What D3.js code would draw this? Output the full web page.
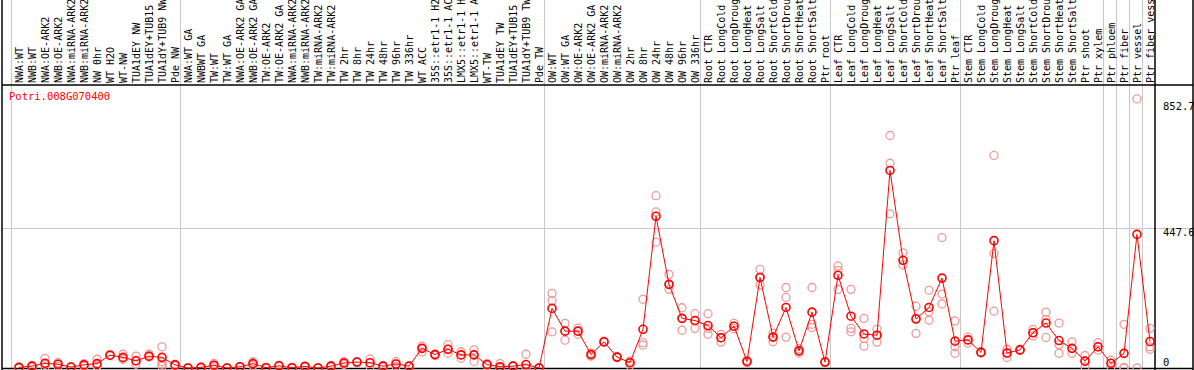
<!DOCTYPE html>
<html>
<head>
<meta charset="utf-8">
<script src="https://cdn.jsdelivr.net/npm/d3@7"></script>
<style>
  body { margin: 0; background: #fff; }
  svg { display: block; }
  text { font-family: "DejaVu Sans Mono", monospace; }
</style>
</head>
<body>
<div id="chart"></div>
<script>
// Sample labels, one per column
var sampleLabels = [
    "NWA:WT", "NWB:WT", "NWA:OE-ARK2", "NWB:OE-ARK2", "NWA:miRNA-ARK2", "NWB:miRNA-ARK2",
    "NW 0hr", "WT H2O", "WT-NW", "TUA1dEY NW", "TUA1dEY+TUB15 NW", "TUA1dY+TUB9 NW", "Pde NW",
    "NWA:WT GA", "NWBWT GA", "TW:WT", "TW:WT GA", "NWA:OE-ARK2 GA", "NWB:OE-ARK2 GA",
    "TW:OE-ARK2", "TW:OE-ARK2 GA", "NWA:miRNA-ARK2 GA", "NWB:miRNA-ARK2 GA", "TW:miRNA-ARK2",
    "TW:miRNA-ARK2 GA", "TW 2hr", "TW 8hr", "TW 24hr", "TW 48hr", "TW 96hr", "TW 336hr",
    "WT ACC", "35S::etr1-1 H2O", "35S::etr1-1 ACC", "LMX5::etr1-1 H2O", "LMX5::etr1-1 ACC",
    "WT-TW", "TUA1dEY TW", "TUA1dEY+TUB15 TW", "TUA1dY+TUB9 TW", "Pde TW",
    "OW:WT", "OW:WT GA", "OW:OE-ARK2", "OW:OE-ARK2 GA", "OW:miRNA-ARK2", "OW:miRNA-ARK2 GA",
    "OW 2hr", "OW 8hr", "OW 24hr", "OW 48hr", "OW 96hr", "OW 336hr",
    "Root CTR", "Root LongCold", "Root LongDrought", "Root LongHeat", "Root LongSalt",
    "Root ShortCold", "Root ShortDrought", "Root ShortHeat", "Root ShortSalt", "Ptr root",
    "Leaf CTR", "Leaf LongCold", "Leaf LongDrought", "Leaf LongHeat", "Leaf LongSalt",
    "Leaf ShortCold", "Leaf ShortDrought", "Leaf ShortHeat", "Leaf ShortSalt", "Ptr leaf",
    "Stem CTR", "Stem LongCold", "Stem LongDrought", "Stem LongHeat", "Stem LongSalt",
    "Stem ShortCold", "Stem ShortDrought", "Stem ShortHeat", "Stem ShortSalt", "Ptr shoot",
    "Ptr xylem", "Ptr phloem", "Ptr fiber", "Ptr vessel", "Ptr fiber vessel"
];

// number of columns in each experiment group
var groupSizes = [13, 28, 12, 10, 10, 11, 1, 1, 1, 1];

// mean expression per sample
var meanValues = [
    2, 6, 15, 12, 3, 10, 14, 41, 34, 23, 38, 34, 10,
    0, 2, 9, 0, 4, 14, 1, 7, 1, 5, 0, 6, 16, 19, 17, 6, 13, 6, 63, 43, 60, 42, 42, 11, 4, 6, 11, 0,
    191, 118, 118, 43, 84, 35, 17, 124, 486, 268, 159, 152,
    136, 97, 134, 21, 290, 99, 194, 55, 179, 19,
    297, 166, 109, 105, 633, 345, 157, 194, 288, 86,
    90, 50, 408, 48, 58, 113, 144, 88, 63, 22, 68,
    15, 47, 428, 85
];

// individual replicate values per sample
var replicateValues = [
    [1, 3, 0], [8, 3, 6], [31, 12, 3], [17, 12, 5], [3, 2, 4], [14, 10, 6], [28, 8, 6],
    [41, 43, 39], [44, 30, 28], [38, 23, 12], [45, 35, 36], [68, 20, 12, 6], [10, 8, 12],
    [0, 1, 0], [3, 1, 2], [15, 9, 4], [0, 0, 1], [4, 3, 5], [20, 14, 8], [1, 2, 0], [7, 9, 5],
    [1, 2, 0], [5, 7, 3], [0, 1, 0], [6, 4, 8], [21, 16, 11], [19, 21, 17], [29, 17, 5],
    [6, 4, 8], [21, 13, 5], [6, 5, 7], [70, 63, 51], [45, 43, 40], [75, 60, 47], [52, 42, 31],
    [58, 42, 21], [14, 11, 8], [14, 4, 0], [6, 5, 7], [44, 11, 0], [0, 0, 0],
    [239, 216, 116], [143, 118, 89], [128, 118, 108], [48, 43, 38], [86, 84, 82], [35, 33, 37],
    [22, 17, 8], [220, 81, 73], [552, 500, 403], [300, 268, 252], [193, 159, 121], [174, 152, 127],
    [174, 127, 108], [108, 97, 83], [143, 134, 126], [25, 21, 17], [316, 290, 266], [112, 99, 84],
    [258, 226, 99], [62, 55, 48], [258, 140, 130], [19, 17, 21],
    [327, 312, 252], [252, 127, 116], [159, 95, 70], [124, 105, 83], [745, 656, 494], [369, 345, 330],
    [198, 160, 111], [249, 180, 153], [418, 237, 205], [151, 68, 47],
    [100, 90, 80], [50, 48, 52], [681, 367, 182], [60, 48, 34], [58, 56, 60], [124, 113, 103],
    [179, 155, 98], [144, 75, 47], [84, 63, 47], [40, 22, 4], [81, 68, 58],
    [25, 15, 5], [140, 2, 0], [862, 0], [127, 68, 60]
];

var yTickValues = [0, 447.6, 852.7];
var geneName = "Potri.008G070400";

var svgWidth = 1194;
var svgHeight = 370;

var plot = { left: 2, right: 1193, top: 85, bottom: 368, colStart: 11, colEnd: 1155 };

var svg = d3.select("#chart")
    .append("svg")
    .attr("width", svgWidth)
    .attr("height", svgHeight);

var xScale = d3.scaleBand()
    .domain(d3.range(sampleLabels.length))
    .range([plot.colStart, plot.colEnd])
    .paddingInner(0)
    .paddingOuter(0);

var yScale = d3.scaleLinear()
    .domain([0, 447.6])
    .range([plot.bottom, 228.3]);

var xPoint = i => xScale(i) + 8;

// group separators
var boundaries = [0];
groupSizes.forEach(function(n) { boundaries.push(boundaries[boundaries.length - 1] + n); });
boundaries.pop();

svg.append("g")
    .selectAll("line")
    .data(boundaries)
    .enter()
    .append("line")
    .attr("x1", d => xScale(d) + 0.5)
    .attr("x2", d => xScale(d) + 0.5)
    .attr("y1", 0)
    .attr("y2", plot.bottom)
    .attr("stroke", "#c8c8c8")
    .attr("stroke-width", 1);

// horizontal grid line at the middle tick
svg.append("line")
    .attr("x1", plot.left)
    .attr("x2", plot.right)
    .attr("y1", Math.round(yScale(447.6)) + 0.5)
    .attr("y2", Math.round(yScale(447.6)) + 0.5)
    .attr("stroke", "#c8c8c8");

// frame
var frame = svg.append("g").attr("stroke", "#000").attr("stroke-width", 1.5);
frame.append("line").attr("x1", plot.left).attr("x2", plot.right).attr("y1", plot.top).attr("y2", plot.top);
frame.append("line").attr("x1", plot.left).attr("x2", plot.right).attr("y1", plot.bottom + 0.5).attr("y2", plot.bottom + 0.5);
frame.append("line").attr("x1", plot.left).attr("x2", plot.left).attr("y1", 0).attr("y2", svgHeight);
frame.append("line").attr("x1", plot.colEnd).attr("x2", plot.colEnd).attr("y1", 0).attr("y2", svgHeight);
frame.append("line").attr("x1", plot.right).attr("x2", plot.right).attr("y1", 0).attr("y2", svgHeight);

// rotated sample labels (long ones run off the top, as in the original)
svg.append("g")
    .selectAll("text")
    .data(sampleLabels)
    .enter()
    .append("text")
    .attr("transform", (d, i) => `translate(${xPoint(i) + 4}, 83) rotate(-90)`)
    .attr("font-size", 10)
    .attr("fill", "#000")
    .text(d => d);

// gene name
svg.append("text")
    .attr("x", 9)
    .attr("y", 100)
    .attr("font-size", 10.5)
    .attr("fill", "#ff0000")
    .text(geneName);

// right axis labels
svg.append("g")
    .selectAll("text")
    .data(yTickValues)
    .enter()
    .append("text")
    .attr("x", 1163)
    .attr("y", d => Math.min(yScale(d), 358) + 8)
    .attr("font-size", 10.5)
    .attr("fill", "#000")
    .text(d => d);

// replicate circles
var repPoints = [];
replicateValues.forEach(function(reps, i) {
    reps.forEach(function(v) { repPoints.push({ i: i, v: v }); });
});

svg.append("g")
    .selectAll("circle")
    .data(repPoints)
    .enter()
    .append("circle")
    .attr("cx", d => xPoint(d.i))
    .attr("cy", d => yScale(d.v))
    .attr("r", 4)
    .attr("fill", "none")
    .attr("stroke", "#ee9a9a")
    .attr("stroke-width", 1.3);

// mean line
var line = d3.line()
    .x((d, i) => xPoint(i))
    .y(d => yScale(d));

svg.append("path")
    .datum(meanValues)
    .attr("d", line)
    .attr("fill", "none")
    .attr("stroke", "#ff0000")
    .attr("stroke-width", 1);

svg.append("g")
    .selectAll("circle")
    .data(meanValues)
    .enter()
    .append("circle")
    .attr("cx", (d, i) => xPoint(i))
    .attr("cy", d => yScale(d))
    .attr("r", 4)
    .attr("fill", "none")
    .attr("stroke", "#ff0000")
    .attr("stroke-width", 1.6);
</script>
</body>
</html>
